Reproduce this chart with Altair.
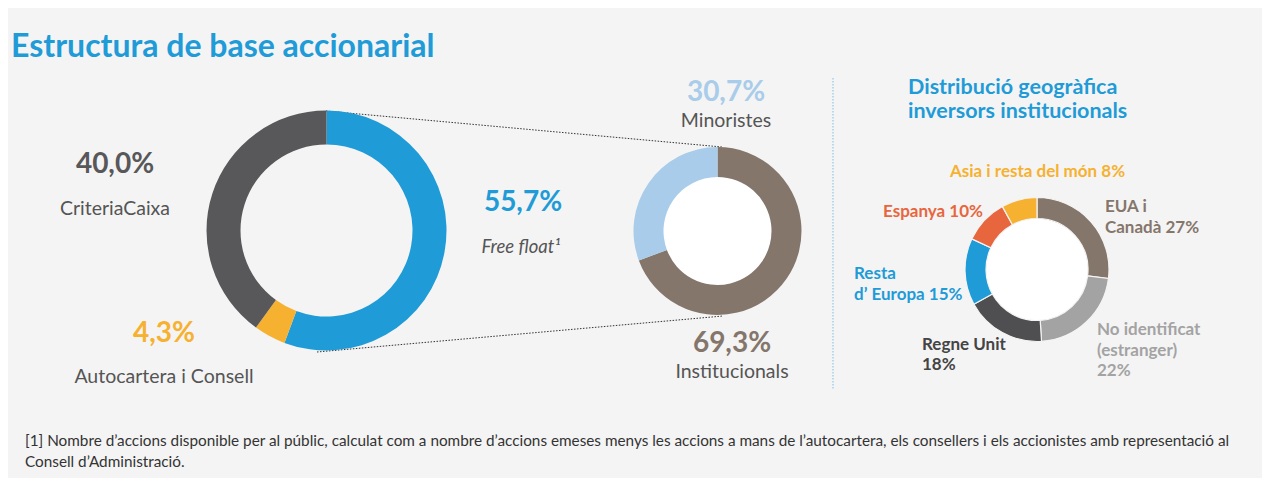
import altair as alt
import pandas as pd

# ---------------- data ----------------
main_cats = ["Free float", "Autocartera i Consell", "CriteriaCaixa"]
main_vals = [55.7, 4.3, 40.0]
main_colors = ["#1f9bd7", "#f6b130", "#58585a"]

ff_cats = ["Institucionals", "Minoristes"]
ff_vals = [69.3, 30.7]
ff_colors = ["#85766c", "#a8cce9"]

geo_cats = ["EUA i Canadà", "No identificat (estranger)", "Regne Unit",
            "Resta d’ Europa", "Espanya", "Asia i resta del món"]
geo_vals = [27, 22, 18, 15, 10, 8]
geo_colors = ["#85766c", "#a3a3a3", "#4f4f51", "#1f9bd7", "#e8663d", "#f6b130"]

title = "Estructura de base accionarial"
geo_title = ["Distribució geogràfica", "inversors institucionals"]
footnote = ["[1] Nombre d’accions disponible per al públic, calculat com a nombre d’accions emeses menys les accions a mans de l’autocartera, els consellers i els accionistes amb representació al",
            "Consell d’Administració."]

FONT = "Lato"
W, H = 1254, 470


def pct(v, dec=1):
    return (f"{v:.{dec}f}".replace(".", ",")) + "%"


def donut(cats, vals, colors, cx, cy, r_in, r_out, stroke=None):
    df = pd.DataFrame({"cat": cats, "value": vals, "idx": list(range(len(cats)))})
    kw = {}
    if stroke:
        kw = dict(stroke=stroke, strokeWidth=1.2)
    return alt.Chart(df).mark_arc(innerRadius=r_in, outerRadius=r_out, **kw).encode(
        theta=alt.Theta("value:Q", stack=True),
        order=alt.Order("idx:Q"),
        color=alt.Color("cat:N", scale=alt.Scale(domain=cats, range=colors), legend=None),
        x=alt.value(cx), y=alt.value(cy),
    )


def disc(cx, cy, r, color):
    df = pd.DataFrame({"v": [1]})
    return alt.Chart(df).mark_arc(outerRadius=r, color=color).encode(
        theta=alt.Theta("v:Q"), x=alt.value(cx), y=alt.value(cy))


def txt(s, x, y, size, color, bold=False, italic=False, align="left"):
    df = pd.DataFrame({"t": [s]})
    kw = dict(font=FONT, fontSize=size, color=color, align=align, baseline="alphabetic")
    if bold:
        kw["fontWeight"] = "bold"
    if italic:
        kw["fontStyle"] = "italic"
    return alt.Chart(df).mark_text(**kw).encode(
        x=alt.value(x), y=alt.value(y), text="t:N")


def seg(x1, y1, x2, y2, color, dash):
    df = pd.DataFrame({"v": [1]})
    return alt.Chart(df).mark_rule(color=color, strokeWidth=1, strokeDash=dash).encode(
        x=alt.value(x1), y=alt.value(y1), x2=alt.value(x2), y2=alt.value(y2))


O = 8  # page offset
layers = []

# connecting dotted lines
layers.append(seg(326 - O, 111 - O, 722 - O, 147 - O, "#333333", [1.5, 1.5]))
layers.append(seg(317 - O, 352 - O, 723 - O, 316 - O, "#333333", [1.5, 1.5]))
# separator
layers.append(seg(833 - O, 78 - O, 833 - O, 390 - O, "#7fbde6", [1.5, 1.5]))

# donuts
layers.append(donut(main_cats, main_vals, main_colors, 326.5 - O, 230.5 - O, 86, 120))
layers.append(disc(717.5 - O, 231 - O, 55, "#ffffff"))
layers.append(donut(ff_cats, ff_vals, ff_colors, 717.5 - O, 231 - O, 54, 84))
layers.append(disc(1037 - O, 269.5 - O, 52, "#ffffff"))
layers.append(donut(geo_cats, geo_vals, geo_colors, 1037 - O, 269.5 - O, 51, 72, stroke="#f4f4f4"))

# title
layers.append(txt(title, 11 - O, 57 - O, 32, "#1f9bd7", bold=True))

PS = 28     # percentages
BS = 19.5   # body labels
# main labels
layers.append(txt(pct(main_vals[2]), 115 - O, 173 - O, PS, "#58585a", bold=True, align="center"))
layers.append(txt(main_cats[2], 115 - O, 215 - O, BS, "#555555", align="center"))
layers.append(txt(pct(main_vals[1]), 164 - O, 342 - O, PS, "#f6b130", bold=True, align="center"))
layers.append(txt(main_cats[1], 164 - O, 383 - O, BS, "#555555", align="center"))
layers.append(txt(pct(main_vals[0]), 523 - O, 211 - O, PS, "#1f9bd7", bold=True, align="center"))
layers.append(txt(main_cats[0] + "¹", 521 - O, 253 - O, 18.5, "#555555", italic=True, align="center"))

# free float labels
layers.append(txt(pct(ff_vals[1]), 726 - O, 101 - O, PS, "#a8cce9", bold=True, align="center"))
layers.append(txt(ff_cats[1], 726 - O, 127 - O, BS, "#555555", align="center"))
layers.append(txt(pct(ff_vals[0]), 732 - O, 352 - O, PS, "#85766c", bold=True, align="center"))
layers.append(txt(ff_cats[0], 732 - O, 378 - O, BS, "#555555", align="center"))

# geo title
layers.append(txt(geo_title[0], 908 - O, 94 - O, 21.5, "#1f9bd7", bold=True))
layers.append(txt(geo_title[1], 908 - O, 118 - O, 21.5, "#1f9bd7", bold=True))

# geo labels
GS = 17
layers.append(txt(f"{geo_cats[5]} {geo_vals[5]}%", 950 - O, 177 - O, GS, "#f6b130", bold=True))
layers.append(txt(f"{geo_cats[4]} {geo_vals[4]}%", 883 - O, 217 - O, GS, "#e8663d", bold=True))
layers.append(txt("EUA i", 1105 - O, 212 - O, GS, "#85766c", bold=True))
layers.append(txt(f"Canadà {geo_vals[0]}%", 1105 - O, 233 - O, GS, "#85766c", bold=True))
layers.append(txt("Resta", 854 - O, 279 - O, GS, "#1f9bd7", bold=True))
layers.append(txt(f"d’ Europa {geo_vals[3]}%", 854 - O, 300 - O, GS, "#1f9bd7", bold=True))
layers.append(txt(geo_cats[2], 922 - O, 350 - O, GS, "#444444", bold=True))
layers.append(txt(f"{geo_vals[2]}%", 922 - O, 370 - O, GS, "#444444", bold=True))
layers.append(txt("No identificat", 1097 - O, 335 - O, GS, "#a3a3a3", bold=True))
layers.append(txt("(estranger)", 1097 - O, 356 - O, GS, "#a3a3a3", bold=True))
layers.append(txt(f"{geo_vals[1]}%", 1097 - O, 376 - O, GS, "#a3a3a3", bold=True))

# footnote
layers.append(txt(footnote[0], 25 - O, 446 - O, 15.3, "#333333"))
layers.append(txt(footnote[1], 25 - O, 467 - O, 15.3, "#333333"))

chart = alt.layer(*layers).resolve_scale(
    theta="independent", color="independent"
).properties(
    width=W, height=H, autosize="none", padding=0, background="#f4f4f4"
).configure_view(stroke=None)

chart.save("out.html", embed_options={"renderer": "svg", "actions": False})
